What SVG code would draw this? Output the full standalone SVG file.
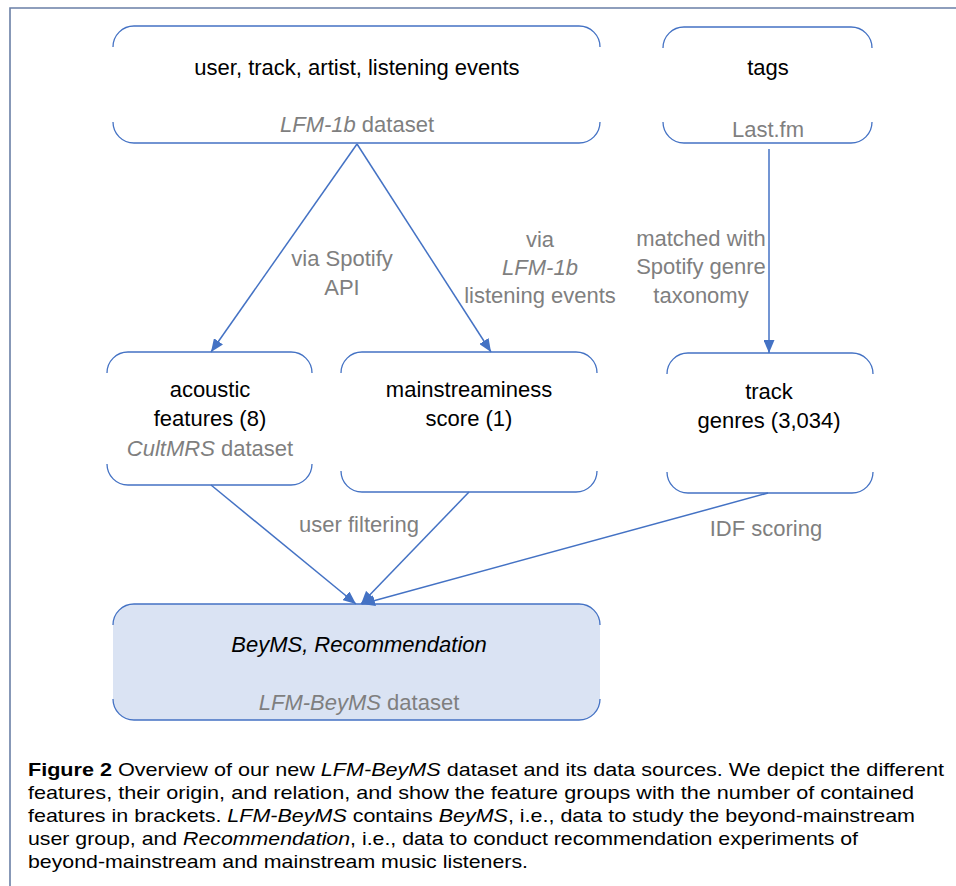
<svg xmlns="http://www.w3.org/2000/svg" width="956" height="886" viewBox="0 0 956 886">
<style>
.box{fill:none;stroke:#4472c4;stroke-width:1.3}
.t{font-family:"Liberation Sans",Arial,sans-serif;font-size:22px;text-anchor:middle;fill:#000}
.g{font-family:"Liberation Sans",Arial,sans-serif;font-size:22px;text-anchor:middle;fill:#7f7f7f}
.i{font-style:italic}
.edge{stroke:#4472c4;stroke-width:1.5;fill:none;marker-end:url(#ah)}
.cap{font-family:"Liberation Sans",Arial,sans-serif;font-size:19px;fill:#000}
</style>
<defs>
<marker id="ah" markerUnits="userSpaceOnUse" markerWidth="13" markerHeight="11" refX="13" refY="5.5" orient="auto">
<path d="M0,0 L13,5.5 L0,11 z" fill="#4472c4"/>
</marker>
</defs>
<rect width="956" height="886" fill="#fff"/>
<g id="frame">
<path d="M956,8 H10 V886" fill="none" stroke="#6a7fa6" stroke-width="1.6"/>
</g>
<g id="node-lfm1b">
<path class="box" d="M113,47 A21,21 0 0 1 134,26 H579 A21,21 0 0 1 600,47 M113,122 A21,21 0 0 0 134,143 H579 A21,21 0 0 0 600,122"/>
<text class="t" x="357" y="75">user, track, artist, listening events</text>
<text class="g" x="357" y="132"><tspan class="i">LFM-1b</tspan> dataset</text>
</g>
<g id="node-tags">
<path class="box" d="M663,48 A21,21 0 0 1 684,27 H851 A21,21 0 0 1 872,48 M663,122 A21,21 0 0 0 684,143 H851 A21,21 0 0 0 872,122"/>
<text class="t" x="768" y="75">tags</text>
<text class="g" x="768" y="137">Last.fm</text>
</g>
<g id="node-acoustic">
<path class="box" d="M107,373 A21,21 0 0 1 128,352 H291 A21,21 0 0 1 312,373 M107,464 A21,21 0 0 0 128,485 H291 A21,21 0 0 0 312,464"/>
<text class="t" x="210" y="397">acoustic</text>
<text class="t" x="210" y="426">features (8)</text>
<text class="g" x="210" y="456"><tspan class="i">CultMRS</tspan> dataset</text>
</g>
<g id="node-mainstream">
<path class="box" d="M341,373 A21,21 0 0 1 362,352 H576 A21,21 0 0 1 597,373 M341,471 A21,21 0 0 0 362,492 H576 A21,21 0 0 0 597,471"/>
<text class="t" x="469" y="397">mainstreaminess</text>
<text class="t" x="469" y="426">score (1)</text>
</g>
<g id="node-genres">
<path class="box" d="M667,374 A21,21 0 0 1 688,353 H852 A21,21 0 0 1 873,374 M667,472 A21,21 0 0 0 688,493 H852 A21,21 0 0 0 873,472"/>
<text class="t" x="769" y="399">track</text>
<text class="t" x="769" y="428">genres (3,034)</text>
</g>
<g id="node-beyms">
<rect x="113" y="604" width="487" height="116" rx="21" ry="21" fill="#dae3f3"/>
<path class="box" d="M113,625 A21,21 0 0 1 134,604 H579 A21,21 0 0 1 600,625 M113,699 A21,21 0 0 0 134,720 H579 A21,21 0 0 0 600,699"/>
<text class="t i" x="359" y="652">BeyMS, Recommendation</text>
<text class="g" x="359" y="710"><tspan class="i">LFM-BeyMS</tspan> dataset</text>
</g>
<g id="connectors">
<path class="edge" d="M357,144 L211,352"/>
<path class="edge" d="M357,144 L491,352"/>
<path class="edge" d="M769,149 L769,353"/>
<path class="edge" d="M211,485 L356,604"/>
<path class="edge" d="M469,492 L361,604"/>
<path class="edge" d="M768,493 L362,604"/>
<text class="g" x="342" y="266">via Spotify</text>
<text class="g" x="342" y="295">API</text>
<text class="g" x="540" y="247">via</text>
<text class="g i" x="540" y="275">LFM-1b</text>
<text class="g" x="540" y="303">listening events</text>
<text class="g" x="701" y="246">matched with</text>
<text class="g" x="701" y="274">Spotify genre</text>
<text class="g" x="701" y="303">taxonomy</text>
<text class="g" x="359" y="532">user filtering</text>
<text class="g" x="766" y="536">IDF scoring</text>
</g>
<g id="caption">
<text class="cap" x="28" y="776" textLength="916" lengthAdjust="spacingAndGlyphs"><tspan font-weight="bold">Figure 2</tspan> Overview of our new <tspan font-style="italic">LFM-BeyMS</tspan> dataset and its data sources. We depict the different</text>
<text class="cap" x="28" y="799" textLength="886" lengthAdjust="spacingAndGlyphs">features, their origin, and relation, and show the feature groups with the number of contained</text>
<text class="cap" x="28" y="822" textLength="887" lengthAdjust="spacingAndGlyphs">features in brackets. <tspan font-style="italic">LFM-BeyMS</tspan> contains <tspan font-style="italic">BeyMS</tspan>, i.e., data to study the beyond-mainstream</text>
<text class="cap" x="28" y="845" textLength="830" lengthAdjust="spacingAndGlyphs">user group, and <tspan font-style="italic">Recommendation</tspan>, i.e., data to conduct recommendation experiments of</text>
<text class="cap" x="28" y="868" textLength="500" lengthAdjust="spacingAndGlyphs">beyond-mainstream and mainstream music listeners.</text>
</g>
</svg>
